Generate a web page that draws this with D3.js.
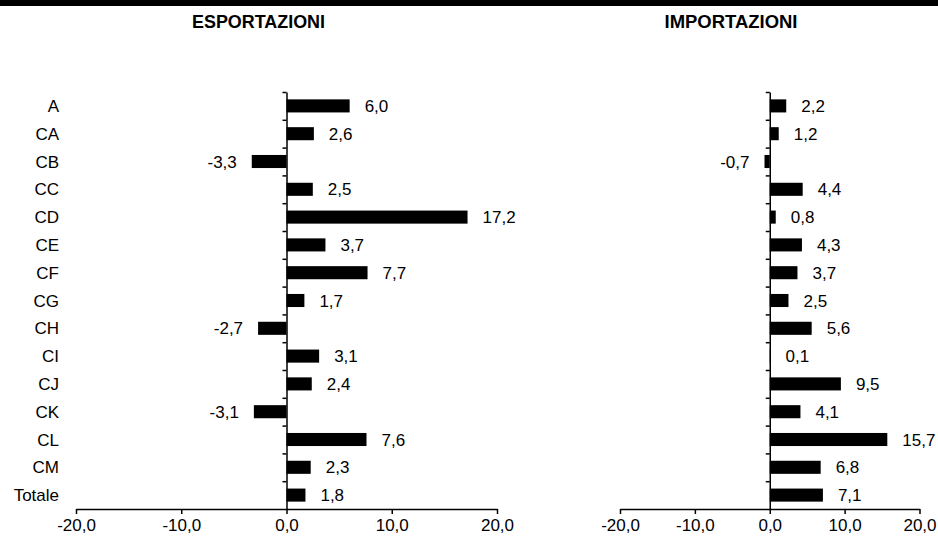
<!DOCTYPE html>
<html>
<head>
<meta charset="utf-8">
<script src="https://cdn.jsdelivr.net/npm/d3@7"></script>
<style>
  html, body { margin: 0; padding: 0; background: #fff; }
  svg { display: block; }
  text { font-family: Arial, "Liberation Sans", sans-serif; fill: #000; }
</style>
</head>
<body>
<svg id="chart" width="938" height="539"></svg>
<script>
const categories = ["A","CA","CB","CC","CD","CE","CF","CG","CH","CI","CJ","CK","CL","CM","Totale"];
const exportValues = [6.0, 2.6, -3.3, 2.5, 17.2, 3.7, 7.7, 1.7, -2.7, 3.1, 2.4, -3.1, 7.6, 2.3, 1.8];
const importValues = [2.2, 1.2, -0.7, 4.4, 0.8, 4.3, 3.7, 2.5, 5.6, 0.1, 9.5, 4.1, 15.7, 6.8, 7.1];
const xTicks = [-20, -10, 0, 10, 20];
const panelTitles = ["ESPORTAZIONI", "IMPORTAZIONI"];

const locale = d3.formatLocale({decimal: ",", thousands: ".", grouping: [3], currency: ["", "€"], minus: "-"});
const fmt = locale.format(".1f");

const svg = d3.select("#chart");

// black band at top
svg.append("rect").attr("x", 0).attr("y", 0).attr("width", 938).attr("height", 6).attr("fill", "#000");

const yTop = 92, yBottom = 509;
const y = d3.scaleBand().domain(categories).range([yTop, yBottom]).paddingInner(0.53).paddingOuter(0.265);
const slot = d3.scaleLinear().domain([0, categories.length]).range([yTop, yBottom]);

const panels = [
  {title: panelTitles[0], values: exportValues, range: [76, 497], titleX: 258.5},
  {title: panelTitles[1], values: importValues, range: [620, 919.5], titleX: 731}
];

panels.forEach((p, pi) => {
  const x = d3.scaleLinear().domain([-20, 20]).range(p.range);
  const g = svg.append("g");

  g.append("text")
    .attr("x", p.titleX).attr("y", 28)
    .attr("text-anchor", "middle")
    .attr("font-size", 19).attr("font-weight", "bold")
    .attr("textLength", 133).attr("lengthAdjust", "spacingAndGlyphs")
    .text(p.title);

  // bars
  g.selectAll("rect.bar").data(p.values).join("rect")
    .attr("class", "bar")
    .attr("x", d => x(Math.min(0, d)))
    .attr("width", d => Math.abs(x(d) - x(0)))
    .attr("y", (d, i) => y(categories[i]))
    .attr("height", y.bandwidth())
    .attr("fill", "#000");

  // value labels
  g.selectAll("text.val").data(p.values).join("text")
    .attr("class", "val")
    .attr("x", d => d < 0 ? x(d) - 15 : x(d) + 15)
    .attr("y", (d, i) => y(categories[i]) + y.bandwidth() / 2)
    .attr("dy", "0.36em")
    .attr("text-anchor", d => d < 0 ? "end" : "start")
    .attr("font-size", 17)
    .text(d => fmt(d));

  // y axis (vertical line at 0 with boundary ticks)
  const yAxis = d3.axisLeft(slot)
    .tickValues(d3.range(0, categories.length))
    .tickSize(4).tickSizeOuter(0).tickFormat("");
  const ya = g.append("g").attr("transform", `translate(${x(0)},0)`).call(yAxis);
  ya.select(".domain").attr("stroke", "#000").attr("stroke-width", 1.5);
  ya.selectAll(".tick line").attr("stroke", "#000").attr("stroke-width", 1.5);

  // x axis
  const xAxis = d3.axisBottom(x).tickValues(xTicks).tickSize(5).tickSizeOuter(0).tickPadding(5).tickFormat(d => fmt(d));
  const xa = g.append("g").attr("transform", `translate(0,${yBottom})`).call(xAxis);
  xa.select(".domain").attr("stroke", "#000").attr("stroke-width", 1.5);
  xa.selectAll(".tick line").attr("stroke", "#000").attr("stroke-width", 1.5);
  xa.selectAll(".tick text").attr("font-size", 17).attr("font-family", "Arial, 'Liberation Sans', sans-serif").attr("fill", "#000");

  // category labels (left panel only)
  if (pi === 0) {
    g.selectAll("text.cat").data(categories).join("text")
      .attr("class", "cat")
      .attr("x", 59)
      .attr("y", d => y(d) + y.bandwidth() / 2)
      .attr("dy", "0.36em")
      .attr("text-anchor", "end")
      .attr("font-size", 17)
      .text(d => d);
  }
});
</script>
</body>
</html>
